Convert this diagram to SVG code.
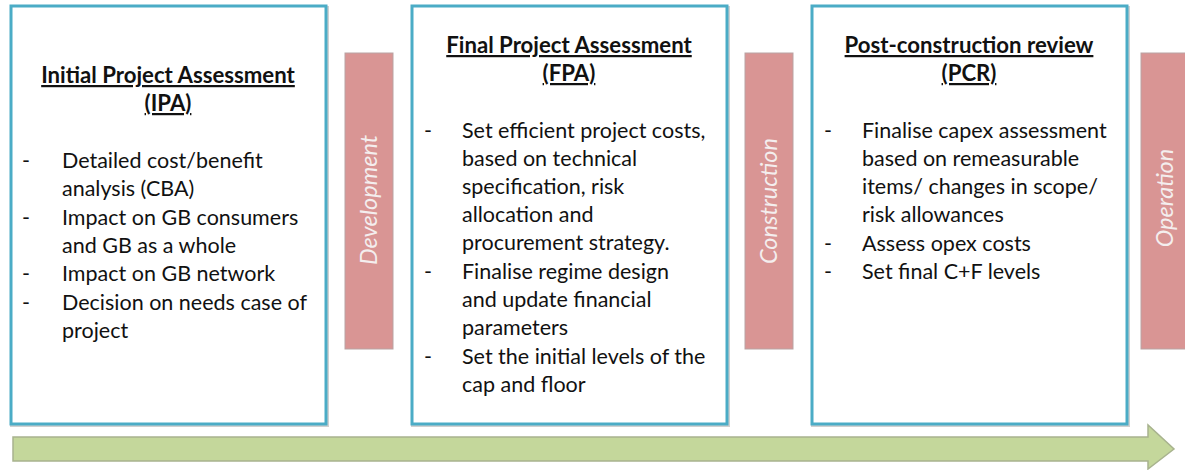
<svg xmlns="http://www.w3.org/2000/svg" width="1185" height="470" viewBox="0 0 1185 470">
  <style>
    .box { fill: #ffffff; stroke: #4bacc6; stroke-width: 3; }
    .shadow { fill: none; stroke: #d0d0d0; stroke-width: 2; }
    .phase { fill: #d99594; stroke: #b9a3a3; stroke-width: 1; }
    .title { font-family: Lato, "Liberation Sans", sans-serif; font-size: 22.2px; font-weight: bold; fill: #111111; text-anchor: middle; text-decoration: underline; }
    .item { font-family: Lato, "Liberation Sans", sans-serif; font-size: 21.5px; fill: #111111; }
    .label { font-family: Lato, "Liberation Sans", sans-serif; font-size: 23.5px; font-style: italic; fill: #f4eeee; text-anchor: middle; }
    .timeline { fill: #c4d79b; stroke: #a8b38e; stroke-width: 1.5; }
  </style>

  <!-- timeline arrow -->
  <g id="connectors">
    <path class="timeline" d="M13,437 L1148,437 L1148,425 L1174,449 L1148,469 L1148,461 L13,461 Z"/>
  </g>

  <!-- Initial Project Assessment -->
  <g id="ipa">
    <rect class="shadow" x="11" y="7" width="317" height="419"/>
    <rect class="box" x="11" y="6" width="315" height="418"/>
    <text class="title" x="168" y="83">Initial Project Assessment</text>
    <text class="title" x="168" y="111">(IPA)</text>
    <g class="item">
      <text x="22" y="168">-</text><text x="62" y="168">Detailed cost/benefit</text>
      <text x="62" y="196">analysis (CBA)</text>
      <text x="22" y="225">-</text><text x="62" y="225">Impact on GB consumers</text>
      <text x="62" y="253">and GB as a whole</text>
      <text x="22" y="281">-</text><text x="62" y="281">Impact on GB network</text>
      <text x="22" y="310">-</text><text x="62" y="310">Decision on needs case of</text>
      <text x="62" y="338">project</text>
    </g>
  </g>

  <!-- Development phase -->
  <g id="development">
    <rect class="phase" x="345" y="53" width="48" height="296"/>
    <text class="label" transform="translate(377,200) rotate(-90)">Development</text>
  </g>

  <!-- Final Project Assessment -->
  <g id="fpa">
    <rect class="shadow" x="412" y="7" width="317" height="419"/>
    <rect class="box" x="412" y="6" width="315" height="418"/>
    <text class="title" x="569" y="53">Final Project Assessment</text>
    <text class="title" x="569" y="81">(FPA)</text>
    <g class="item">
      <text x="424" y="138">-</text><text x="462" y="138">Set efficient project costs,</text>
      <text x="462" y="166">based on technical</text>
      <text x="462" y="194">specification, risk</text>
      <text x="462" y="222">allocation and</text>
      <text x="462" y="250">procurement strategy.</text>
      <text x="424" y="279">-</text><text x="462" y="279">Finalise regime design</text>
      <text x="462" y="307">and update financial</text>
      <text x="462" y="335">parameters</text>
      <text x="424" y="364">-</text><text x="462" y="364">Set the initial levels of the</text>
      <text x="462" y="392">cap and floor</text>
    </g>
  </g>

  <!-- Construction phase -->
  <g id="construction">
    <rect class="phase" x="745" y="53" width="48" height="296"/>
    <text class="label" transform="translate(777,201) rotate(-90)">Construction</text>
  </g>

  <!-- Post-construction review -->
  <g id="pcr">
    <rect class="shadow" x="812" y="7" width="317" height="419"/>
    <rect class="box" x="812" y="6" width="315" height="418"/>
    <text class="title" x="969" y="53">Post-construction review</text>
    <text class="title" x="969" y="81">(PCR)</text>
    <g class="item">
      <text x="824" y="138">-</text><text x="862" y="138">Finalise capex assessment</text>
      <text x="862" y="166">based on remeasurable</text>
      <text x="862" y="194">items/ changes in scope/</text>
      <text x="862" y="222">risk allowances</text>
      <text x="824" y="251">-</text><text x="862" y="251">Assess opex costs</text>
      <text x="824" y="279">-</text><text x="862" y="279">Set final C+F levels</text>
    </g>
  </g>

  <!-- Operation phase -->
  <g id="operation">
    <rect class="phase" x="1141" y="53" width="48" height="296"/>
    <text class="label" transform="translate(1173,198) rotate(-90)">Operation</text>
  </g>
</svg>
